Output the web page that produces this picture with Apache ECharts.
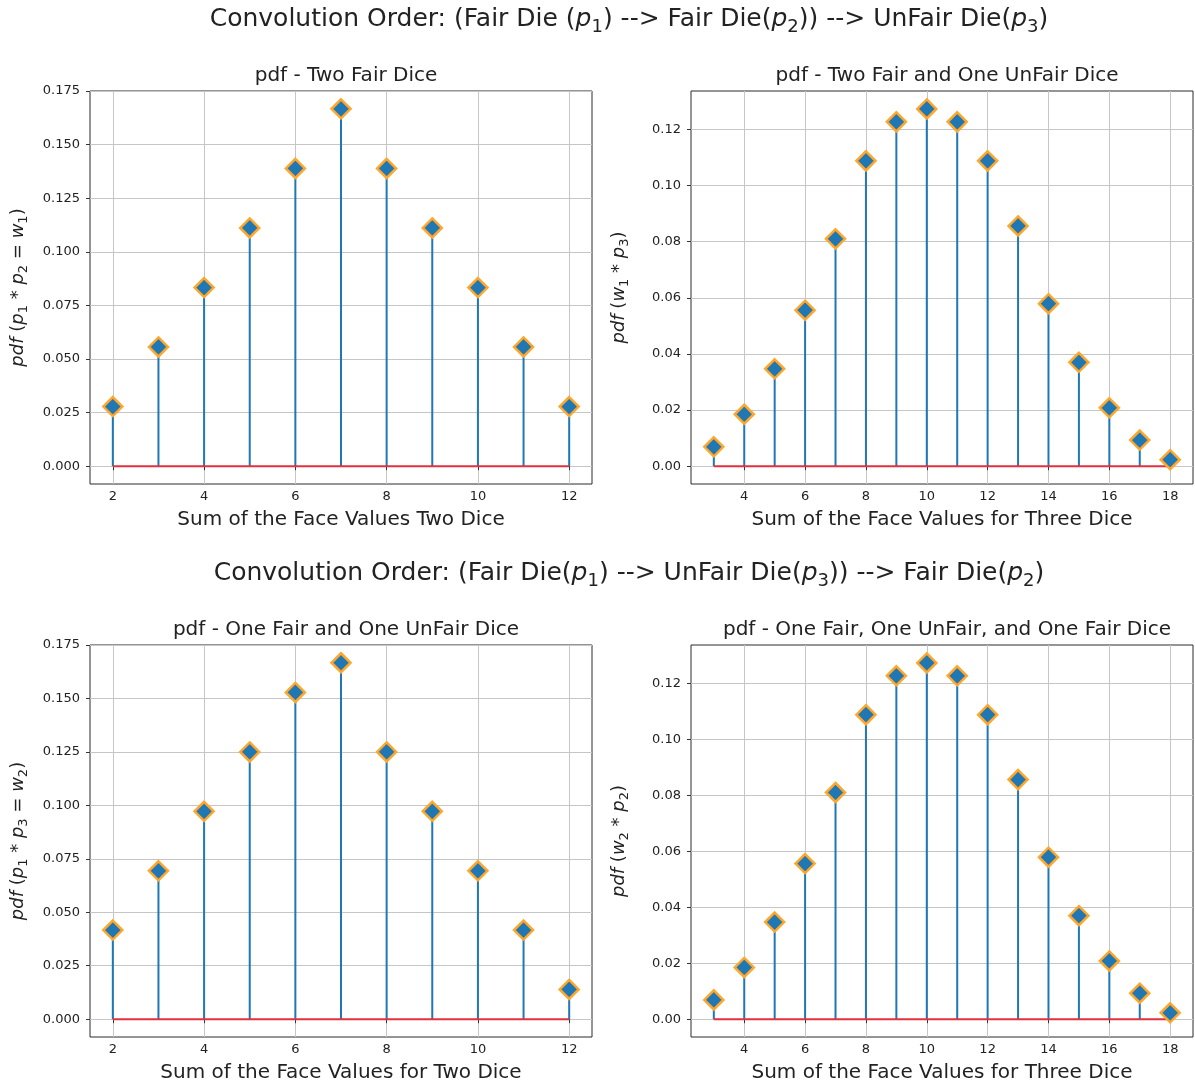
<!DOCTYPE html>
<html>
<head>
<meta charset="utf-8">
<script src="https://cdn.jsdelivr.net/npm/echarts@6/dist/echarts.min.js"></script>
<style>
  html, body { margin: 0; padding: 0; background: #fff; }
  #chart { width: 1195px; height: 1086px; }
</style>
</head>
<body>
<div id="chart"></div>
<script>
// sums of face values
const sumsTwo = [2, 3, 4, 5, 6, 7, 8, 9, 10, 11, 12];
const sumsThree = [3, 4, 5, 6, 7, 8, 9, 10, 11, 12, 13, 14, 15, 16, 17, 18];

// pdf values
const pdfTwoFair = [0.0278, 0.0556, 0.0833, 0.1111, 0.1389, 0.1667, 0.1389, 0.1111, 0.0833, 0.0556, 0.0278];
const pdfTwoFairOneUnfair = [0.0069, 0.0185, 0.0347, 0.0556, 0.0810, 0.1088, 0.1227, 0.1273, 0.1227, 0.1088, 0.0856, 0.0579, 0.0370, 0.0208, 0.0093, 0.0023];
const pdfFairUnfair = [0.0417, 0.0694, 0.0972, 0.1250, 0.1528, 0.1667, 0.1250, 0.0972, 0.0694, 0.0417, 0.0139];
const pdfFairUnfairFair = [0.0069, 0.0185, 0.0347, 0.0556, 0.0810, 0.1088, 0.1227, 0.1273, 0.1227, 0.1088, 0.0856, 0.0579, 0.0370, 0.0208, 0.0093, 0.0023];

// tick labels
const xTicksTwo = [2, 4, 6, 8, 10, 12];
const xTicksThree = [4, 6, 8, 10, 12, 14, 16, 18];
const yTicksTwo = [0, 0.025, 0.05, 0.075, 0.1, 0.125, 0.15, 0.175];
const yTicksThree = [0, 0.02, 0.04, 0.06, 0.08, 0.1, 0.12];

const FONT = "DejaVu Sans";
const TXT = "#222";
const BLUE = "#1f77b4";
const EDGE = "#ffa62b";
const RED = "#e0323f";

// rich styles for the math bits: italic letters and real subscripts
function mathRich(fs) {
  return {
    i: { fontFamily: FONT, fontSize: fs, lineHeight: Math.round(fs * 1.3), fontStyle: "italic", color: TXT },
    s: { fontFamily: FONT, fontSize: Math.round(fs * 0.7), lineHeight: Math.round(fs * 0.7), verticalAlign: "bottom", color: TXT }
  };
}

const panels = [
  { grid: { left: 90, top: 91, width: 502, height: 393 },
    title: "pdf - Two Fair Dice", xName: "Sum of the Face Values Two Dice",
    yName: "{i|pdf} ({i|p}{s|1} * {i|p}{s|2} = {i|w}{s|1})",
    xs: sumsTwo, ys: pdfTwoFair, xMin: 1.5, xMax: 12.5, yMin: -0.00833, yMax: 0.175,
    xTicks: xTicksTwo, yTicks: yTicksTwo, dec: 3 },
  { grid: { left: 691, top: 91, width: 502, height: 393 },
    title: "pdf - Two Fair and One UnFair Dice", xName: "Sum of the Face Values for Three Dice",
    yName: "{i|pdf} ({i|w}{s|1} * {i|p}{s|3})",
    xs: sumsThree, ys: pdfTwoFairOneUnfair, xMin: 2.25, xMax: 18.75, yMin: -0.00636, yMax: 0.1337,
    xTicks: xTicksThree, yTicks: yTicksThree, dec: 2 },
  { grid: { left: 90, top: 645, width: 502, height: 392 },
    title: "pdf - One Fair and One UnFair Dice", xName: "Sum of the Face Values for Two Dice",
    yName: "{i|pdf} ({i|p}{s|1} * {i|p}{s|3} = {i|w}{s|2})",
    xs: sumsTwo, ys: pdfFairUnfair, xMin: 1.5, xMax: 12.5, yMin: -0.00833, yMax: 0.175,
    xTicks: xTicksTwo, yTicks: yTicksTwo, dec: 3 },
  { grid: { left: 691, top: 645, width: 502, height: 392 },
    title: "pdf - One Fair, One UnFair, and One Fair Dice", xName: "Sum of the Face Values for Three Dice",
    yName: "{i|pdf} ({i|w}{s|2} * {i|p}{s|2})",
    xs: sumsThree, ys: pdfFairUnfairFair, xMin: 2.25, xMax: 18.75, yMin: -0.00636, yMax: 0.1337,
    xTicks: xTicksThree, yTicks: yTicksThree, dec: 2 }
];

const chart = echarts.init(document.getElementById("chart"));

const SUP = 25;
const titles = [
  { text: "Convolution Order: (Fair Die ({i|p}{s|1}) --> Fair Die({i|p}{s|2})) --> UnFair Die({i|p}{s|3})", left: 624, top: -2 },
  { text: "Convolution Order: (Fair Die({i|p}{s|1}) --> UnFair Die({i|p}{s|3})) --> Fair Die({i|p}{s|2})", left: 624, top: 552 }
].map(t => ({
  text: t.text, left: t.left, top: t.top, textAlign: "center",
  textStyle: { fontFamily: FONT, fontSize: SUP, lineHeight: Math.round(SUP * 1.3), fontWeight: "normal", color: TXT,
    rich: mathRich(SUP) }
}));

panels.forEach(p => {
  titles.push({
    text: p.title, left: p.grid.left + p.grid.width / 2, top: p.grid.top - 30, textAlign: "center",
    textStyle: { fontFamily: FONT, fontSize: 20, fontWeight: "normal", color: TXT }
  });
});

const grids = [], xAxes = [], yAxes = [], series = [];

panels.forEach((p, i) => {
  grids.push(Object.assign({ show: true, borderColor: "#2a2a2a", borderWidth: 1, containLabel: false }, p.grid));
  xAxes.push({
    type: "value", gridIndex: i, min: p.xMin, max: p.xMax,
    name: p.xName, nameLocation: "middle", nameGap: 26,
    nameTextStyle: { fontFamily: FONT, fontSize: 20, color: TXT },
    axisLine: { show: false },
    axisTick: { show: true, length: 4, customValues: p.xTicks, lineStyle: { color: "#333" } },
    axisLabel: { customValues: p.xTicks, fontFamily: FONT, fontSize: 13, color: TXT, margin: 6 },
    splitLine: { show: true, lineStyle: { color: "#c6c6c6", width: 1 } }
  });
  yAxes.push({
    type: "value", gridIndex: i, min: p.yMin, max: p.yMax,
    name: p.yName, nameLocation: "middle", nameRotate: 90, nameGap: 60,
    nameTextStyle: { fontFamily: FONT, fontSize: 18, lineHeight: 23, color: TXT, rich: mathRich(18) },
    axisLine: { show: false },
    axisTick: { show: true, length: 4, customValues: p.yTicks, lineStyle: { color: "#333" } },
    axisLabel: { customValues: p.yTicks, fontFamily: FONT, fontSize: 13, color: TXT, margin: 10,
      formatter: v => v.toFixed(p.dec) },
    splitLine: { show: true, lineStyle: { color: "#c6c6c6", width: 1 } }
  });

  const pts = p.xs.map((x, k) => [x, p.ys[k]]);
  // stems
  series.push({
    type: "bar", xAxisIndex: i, yAxisIndex: i, data: pts, barWidth: 2,
    itemStyle: { color: BLUE }, silent: true, z: 2
  });
  // baseline
  series.push({
    type: "line", xAxisIndex: i, yAxisIndex: i,
    data: [[p.xs[0], 0], [p.xs[p.xs.length - 1], 0]],
    symbol: "none", lineStyle: { color: RED, width: 2 }, silent: true, z: 3
  });
  // markers
  series.push({
    type: "scatter", xAxisIndex: i, yAxisIndex: i, data: pts,
    symbol: "diamond", symbolSize: 19,
    itemStyle: { color: BLUE, borderColor: EDGE, borderWidth: 2.5, opacity: 1 }, z: 4
  });
});

chart.setOption({
  animation: false,
  backgroundColor: "#fff",
  title: titles,
  grid: grids,
  xAxis: xAxes,
  yAxis: yAxes,
  series: series
});

window.addEventListener("resize", () => chart.resize());
</script>
</body>
</html>
